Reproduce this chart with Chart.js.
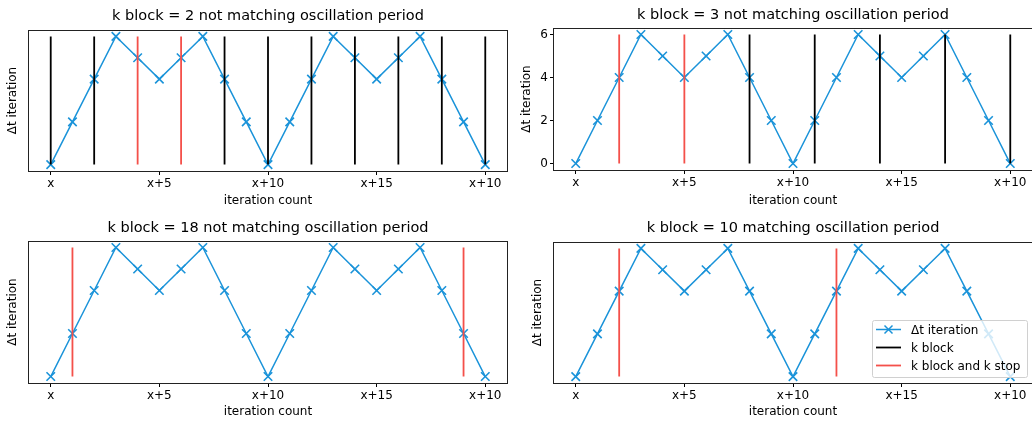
<!DOCTYPE html>
<html>
<head>
<meta charset="utf-8">
<script src="https://cdn.jsdelivr.net/npm/chart.js@4.4.1/dist/chart.umd.min.js"></script>
<style>
  html, body { margin: 0; padding: 0; background: #fff; }
  body { width: 1032px; height: 422px; position: relative; overflow: hidden; }
  .panel { position: absolute; width: 516px; height: 211px; }
</style>
</head>
<body>
<div class="panel" style="left:0;top:0"><canvas id="c1" width="516" height="211"></canvas></div>
<div class="panel" style="left:516px;top:0"><canvas id="c2" width="516" height="211"></canvas></div>
<div class="panel" style="left:0;top:211px"><canvas id="c3" width="516" height="211"></canvas></div>
<div class="panel" style="left:516px;top:211px"><canvas id="c4" width="516" height="211"></canvas></div>
<script>
// data
const iterations = [0, 1, 2, 3, 4, 5, 6, 7, 8, 9, 10, 11, 12, 13, 14, 15, 16, 17, 18, 19, 20];
const dtIteration = [0, 2, 4, 6, 5, 4, 5, 6, 4, 2, 0, 2, 4, 6, 5, 4, 5, 6, 4, 2, 0];
const xTickValues = [0, 5, 10, 15, 20];
const xTickLabels = ['x', 'x+5', 'x+10', 'x+15', 'x+10'];
const yTickValues = [0, 2, 4, 6];
const titles = [
  'k block = 2 not matching oscillation period',
  'k block = 3 not matching oscillation period',
  'k block = 18 not matching oscillation period',
  'k block = 10 matching oscillation period'
];
const kBlock1 = [0, 2, 8, 10, 12, 14, 16, 18, 20];
const kStop1 = [4, 6];
const kBlock2 = [8, 11, 14, 17, 20];
const kStop2 = [2, 5];
const kBlock3 = [];
const kStop3 = [1, 19];
const kBlock4 = [];
const kStop4 = [2, 12];
const lineLow = 0;
const lineHigh = 6;

const BLUE = '#1a93d9';
const RED = '#f4504a';
const FONT = 'DejaVu Sans';

Chart.defaults.font.family = FONT;
Chart.defaults.color = '#000';

function vlines(xs) {
  const pts = [];
  xs.forEach(x => {
    pts.push({x: x, y: lineLow}, {x: x, y: lineHigh}, {x: x, y: null});
  });
  return pts;
}

// center the title over the plot, not the whole canvas
const titleOverPlot = {
  id: 'titleOverPlot',
  afterLayout(chart) {
    const t = chart.titleBlock, a = chart.chartArea;
    if (!t) return;
    t.left = a.left;
    t.right = a.right;
    t.width = a.right - a.left;
  }
};

// box round the plot, like matplotlib spines
const spines = {
  id: 'spines',
  afterDatasetsDraw(chart) {
    const a = chart.chartArea, ctx = chart.ctx;
    ctx.save();
    ctx.strokeStyle = '#222';
    ctx.lineWidth = 1;
    ctx.strokeRect(Math.round(a.left) - 0.5, Math.round(a.top) + 0.5,
      Math.round(a.right - a.left) + 1, Math.round(a.bottom - a.top));
    ctx.restore();
  }
};

// legend inside the plot, bottom right
const boxLegend = {
  id: 'boxLegend',
  afterDraw(chart, args, opts) {
    if (!opts.show) return;
    const a = chart.chartArea, ctx = chart.ctx;
    const w = 155, h = 57;
    const x0 = a.right - 5 - w, y0 = a.bottom - 6 - h;
    ctx.save();
    ctx.fillStyle = 'rgba(255,255,255,0.8)';
    ctx.strokeStyle = '#d0d0d0';
    ctx.lineWidth = 1;
    ctx.beginPath();
    ctx.roundRect(x0 + 0.5, y0 + 0.5, w, h, 2);
    ctx.fill();
    ctx.stroke();
    ctx.font = '12px ' + FONT;
    ctx.textBaseline = 'middle';
    ctx.fillStyle = '#000';
    chart.data.datasets.forEach((ds, i) => {
      const y = y0 + 9.5 + i * 18;
      ctx.strokeStyle = ds.borderColor;
      ctx.lineWidth = ds.borderWidth;
      ctx.beginPath();
      ctx.moveTo(x0 + 4, y);
      ctx.lineTo(x0 + 29, y);
      ctx.stroke();
      if (ds.pointRadius > 0) {
        const cx = x0 + 16.5, r = 4;
        ctx.beginPath();
        ctx.moveTo(cx - r, y - r); ctx.lineTo(cx + r, y + r);
        ctx.moveTo(cx - r, y + r); ctx.lineTo(cx + r, y - r);
        ctx.stroke();
      }
      ctx.fillText(ds.label, x0 + 39, y + 1);
    });
    ctx.restore();
  }
};

function makePanel(id, title, kBlock, kStop, lay) {
  const datasets = [
    {
      label: 'Δt iteration',
      data: iterations.map((x, i) => ({x: x, y: dtIteration[i]})),
      borderColor: BLUE,
      backgroundColor: BLUE,
      borderWidth: 1.5,
      pointStyle: 'crossRot',
      pointRadius: 6,
      pointBorderWidth: 1.6,
      pointBorderColor: BLUE,
      tension: 0,
      order: 3
    },
    {
      label: 'k block',
      data: vlines(kBlock),
      borderColor: '#000',
      borderWidth: 1.8,
      pointRadius: 0,
      spanGaps: false,
      order: 2
    },
    {
      label: 'k block and k stop',
      data: vlines(kStop),
      borderColor: RED,
      borderWidth: 1.8,
      pointRadius: 0,
      spanGaps: false,
      order: 1
    }
  ];

  new Chart(document.getElementById(id), {
    type: 'line',
    data: {datasets: datasets},
    plugins: [titleOverPlot, spines, boxLegend],
    options: {
      responsive: false,
      animation: false,
      devicePixelRatio: 1,
      layout: {autoPadding: false, padding: {left: 0, right: lay.padRight, top: 0, bottom: 0}},
      plugins: {
        legend: {display: false},
        tooltip: {enabled: false},
        title: {
          display: true,
          text: title,
          color: '#000',
          font: {size: 14.5, weight: 'normal', family: FONT},
          padding: {top: lay.titleTop, bottom: lay.titleBottom}
        },
        boxLegend: {show: lay.legend}
      },
      scales: {
        x: {
          type: 'linear',
          min: -1,
          max: 21,
          afterBuildTicks: s => { s.ticks = xTickValues.map(v => ({value: v})); },
          afterFit: s => { s.height = lay.xHeight; s.paddingLeft = 0; s.paddingRight = 0; },
          ticks: {
            autoSkip: false,
            maxRotation: 0,
            padding: 2,
            font: {size: 12},
            callback: v => xTickLabels[xTickValues.indexOf(v)]
          },
          grid: {drawOnChartArea: false, drawTicks: true, tickLength: 4, color: '#000', tickWidth: 1},
          border: {display: false},
          title: {display: true, text: 'iteration count', font: {size: 12}, padding: {top: 0, bottom: 3}}
        },
        y: {
          type: 'linear',
          min: -0.3,
          max: 6.3,
          afterBuildTicks: s => { s.ticks = yTickValues.map(v => ({value: v})); },
          afterFit: s => { s.width = lay.yWidth; s.paddingTop = 0; s.paddingBottom = 0; },
          ticks: {display: lay.yTicks, padding: 2, font: {size: 12}},
          grid: {drawOnChartArea: false, drawTicks: lay.yTicks, tickLength: 4, color: '#000', tickWidth: 1},
          border: {display: false},
          title: {display: true, text: 'Δt iteration', font: {size: 12}, padding: {top: lay.yTitlePad, bottom: 0}}
        }
      }
    }
  });
}

makePanel('c1', titles[0], kBlock1, kStop1,
  {padRight: 9, yWidth: 29, xHeight: 40, titleTop: 7.3, titleBottom: 5.3, yTitlePad: 6, yTicks: false, legend: false});
makePanel('c2', titles[1], kBlock2, kStop2,
  {padRight: 0, yWidth: 38, xHeight: 41, titleTop: 6.6, titleBottom: 4, yTitlePad: 4, yTicks: true, legend: false});
makePanel('c3', titles[2], kBlock3, kStop3,
  {padRight: 9, yWidth: 29, xHeight: 39, titleTop: 8.6, titleBottom: 4, yTitlePad: 6, yTicks: false, legend: false});
makePanel('c4', titles[3], kBlock4, kStop4,
  {padRight: 0, yWidth: 38, xHeight: 39, titleTop: 8.6, titleBottom: 5, yTitlePad: 15, yTicks: false, legend: true});
</script>
</body>
</html>
